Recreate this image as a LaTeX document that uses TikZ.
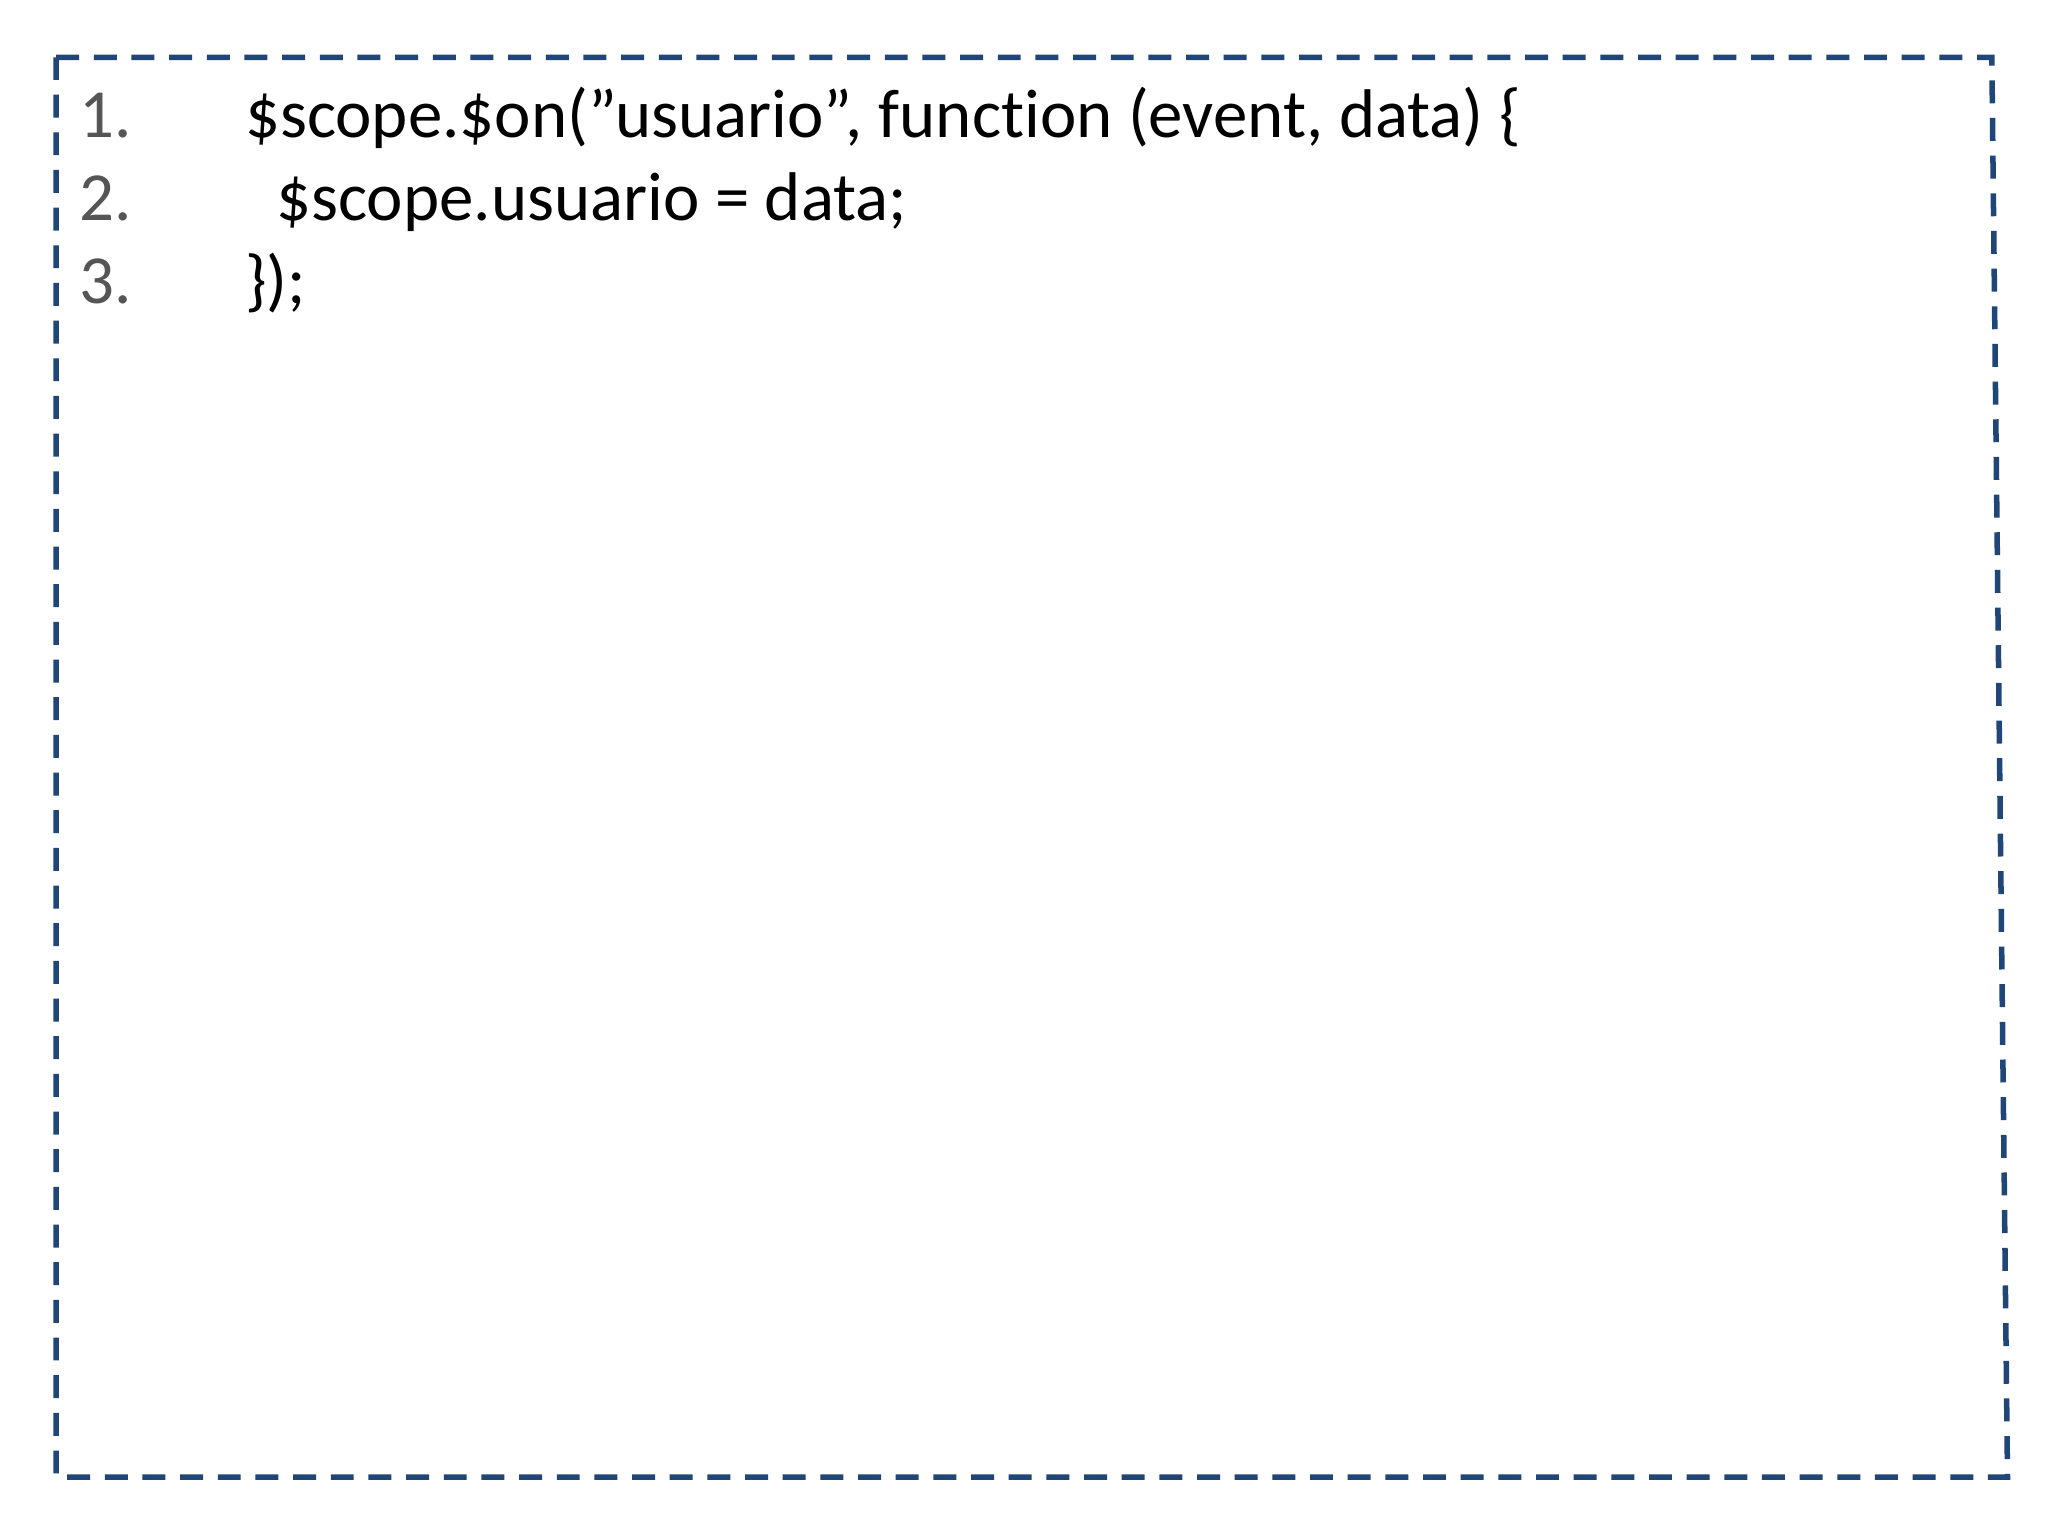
\documentclass[tikz,border=0pt]{standalone}
\usepackage{fontspec}
\setmainfont[Ligatures=NoCommon]{Carlito}
\definecolor{boxblue}{HTML}{1F4677}
\definecolor{numgray}{HTML}{555555}
\tikzset{
  frame/.style={draw=boxblue, line width=1.2pt, dash pattern=on 5pt off 3.2pt},
  num/.style={anchor=base west, inner sep=0pt, text=numgray, font=\fontsize{15}{18}\selectfont},
  code/.style={anchor=base west, inner sep=0pt, text=black, font=\fontsize{15}{18}\selectfont}
}
\begin{document}
\begin{tikzpicture}[x=0.01cm,y=-0.01cm]
\useasboundingbox (0,0) rectangle (1568,1176);
\fill[white] (0,0) rectangle (1568,1176);
\coordinate (tl) at (43,44); \coordinate (tr) at (1525,44);
\coordinate (br) at (1537,1131); \coordinate (bl) at (43,1131);
\draw[frame] (tl) -- (tr) -- (br) -- (bl) -- cycle;
\node[num] (n1) at (60,105) {1.};
\node[num] (n2) at (60,169) {2.};
\node[num] (n3) at (60,232) {3.};
\node[code] (c1) at (187,105) {\$scope.\$on(\symbol{34}usuario\symbol{34}, function (event, data) \{};
\node[code] (c2) at (211,169) {\$scope.usuario = data;};
\node[code] (c3) at (187,232) {\});};
\end{tikzpicture}
\end{document}
